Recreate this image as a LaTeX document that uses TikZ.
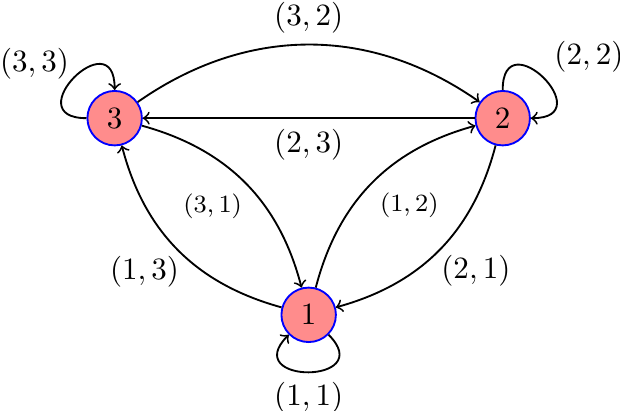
\documentclass[tikz,border=0pt]{standalone}
\usepackage{xcolor}
\usepackage{tikz}
\usetikzlibrary{positioning}

\begin{document}
\begin{tikzpicture}[
    semithick,
    vtx/.style={circle, draw=blue, fill=red!45},
    sml/.style={font=\footnotesize},
]
\useasboundingbox (-3.5,-1.08) rectangle (3.53,3.57);

\node[vtx] (n1) at (0,0) {$1$};
\node[vtx] (n2) at (2.2,2.23) {$2$};
\node[vtx] (n3) at (-2.2,2.23) {$3$};

% loops
\draw[->] (n3) to[out=180, in=90, distance=8mm] node[above left, xshift=2pt, yshift=-4pt] {$(3,3)$} (n3);
\draw[->] (n2) to[out=90, in=0, distance=8mm] node[above right, yshift=-2pt] {$(2,2)$} (n2);
\draw[->] (n1) to[out=-45, in=-135, distance=8mm] node[below, yshift=0.5pt] {$(1,1)$} (n1);

% top pair
\draw[->] (n3) to[bend left=35] node[above] {$(3,2)$} (n2);
\draw[->] (n2) -- node[below] {$(2,3)$} (n3);

% left pair
\draw[->] (n3) to[bend left=30] node[sml, below left, xshift=2.5pt] {$(3,1)$} (n1);
\draw[->] (n1) to[bend left=30] node[below left, xshift=4pt, yshift=1.5pt] {$(1,3)$} (n3);

% right pair
\draw[->] (n1) to[bend left=30] node[sml, below right, xshift=-1pt, yshift=0.5pt] {$(1,2)$} (n2);
\draw[->] (n2) to[bend left=30] node[below right, xshift=-3pt, yshift=2pt] {$(2,1)$} (n1);
\end{tikzpicture}
\end{document}
